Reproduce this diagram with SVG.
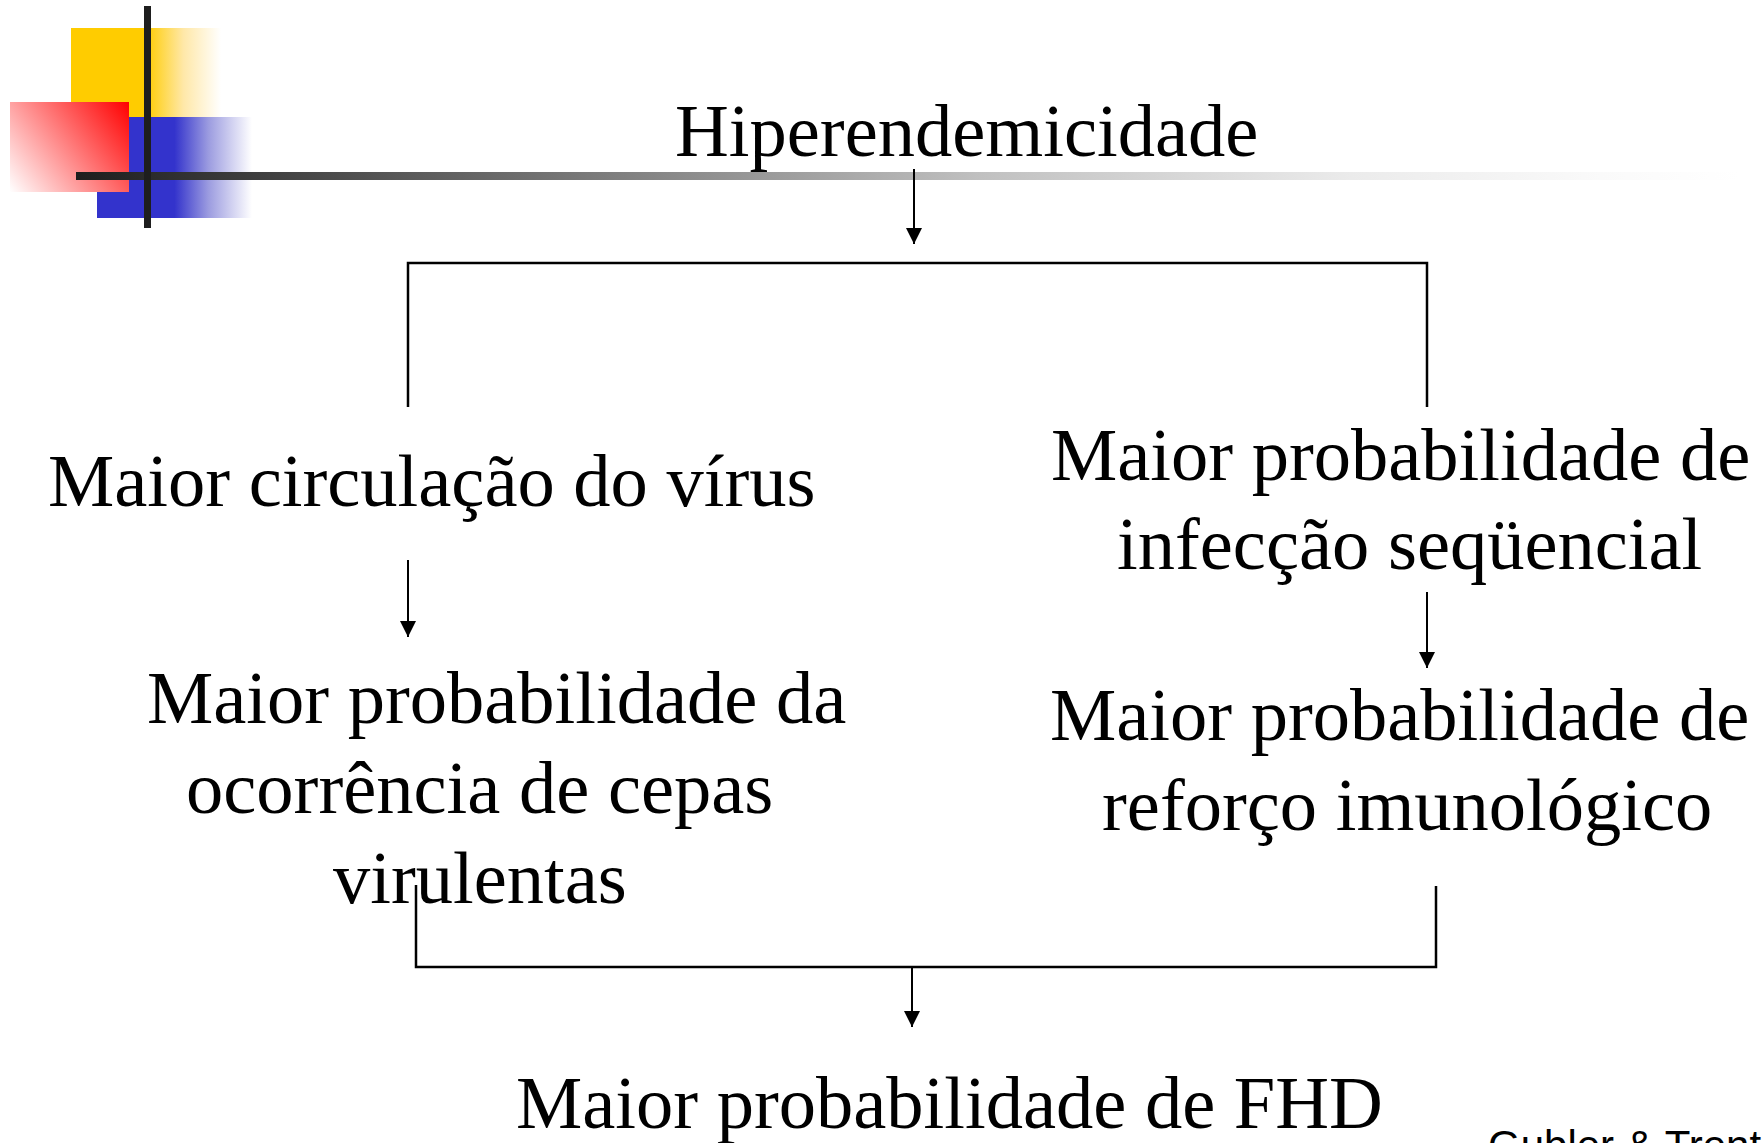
<svg xmlns="http://www.w3.org/2000/svg" width="1762" height="1143" viewBox="0 0 1762 1143">
  <style>
    .t { font-family: "Liberation Serif", "Times New Roman", serif; font-size: 74.5px; fill: #000; }
    .ref { font-family: "Liberation Sans", Arial, sans-serif; font-size: 42px; fill: #000; }
    .c { fill: none; stroke: #000; stroke-width: 2.5; }
    .a { fill: none; stroke: #000; stroke-width: 2; marker-end: url(#arr); }
  </style>
  <defs>
    <marker id="arr" markerUnits="userSpaceOnUse" markerWidth="16" markerHeight="16" refX="16" refY="8" orient="auto" viewBox="0 0 16 16">
      <path d="M0,0 L16,8 L0,16 Z" fill="#000"/>
    </marker>
    <linearGradient id="gY" gradientUnits="userSpaceOnUse" x1="71" y1="0" x2="221" y2="0">
      <stop offset="0" stop-color="#FFCC00"/>
      <stop offset="0.5" stop-color="#FFCC00"/>
      <stop offset="0.75" stop-color="#FFE8A8"/>
      <stop offset="1" stop-color="#FFFFFF"/>
    </linearGradient>
    <linearGradient id="gB" gradientUnits="userSpaceOnUse" x1="97" y1="0" x2="252" y2="0">
      <stop offset="0" stop-color="#3333CC"/>
      <stop offset="0.5" stop-color="#3333CC"/>
      <stop offset="0.72" stop-color="#9C9CE0"/>
      <stop offset="1" stop-color="#FFFFFF"/>
    </linearGradient>
    <linearGradient id="gR" gradientUnits="userSpaceOnUse" x1="129" y1="102" x2="10" y2="192">
      <stop offset="0" stop-color="#FF0000"/>
      <stop offset="1" stop-color="#FFFFFF"/>
    </linearGradient>
    <linearGradient id="gL" gradientUnits="userSpaceOnUse" x1="76" y1="0" x2="1740" y2="0">
      <stop offset="0" stop-color="#1E1E1E"/>
      <stop offset="0.543" stop-color="#C0C0C0"/>
      <stop offset="0.766" stop-color="#EBEBEB"/>
      <stop offset="0.916" stop-color="#FAFAFA"/>
      <stop offset="1" stop-color="#FFFFFF"/>
    </linearGradient>
  </defs>

  <rect width="1762" height="1143" fill="#FFFFFF"/>

  <g id="decoration">
    <rect x="71" y="28" width="150" height="90" fill="url(#gY)"/>
    <rect x="97" y="117" width="155" height="101" fill="url(#gB)"/>
    <rect x="10" y="102" width="119" height="90" fill="url(#gR)"/>
    <rect x="76" y="172" width="1664" height="8" fill="url(#gL)"/>
    <rect x="144" y="6" width="7" height="222" fill="#1E1E1E"/>
  </g>

  <g id="connectors">
    <line class="a" x1="914" y1="169" x2="914" y2="244"/>
    <polyline class="c" points="408,407 408,263 1427,263 1427,407"/>
    <line class="a" x1="408" y1="560" x2="408" y2="637"/>
    <line class="a" x1="1427" y1="592" x2="1427" y2="668"/>
    <polyline class="c" points="416,885 416,967 1436,967 1436,886"/>
    <line class="a" x1="912" y1="967" x2="912" y2="1027"/>
  </g>

  <g id="node-hiperendemicidade">
    <text class="t" x="675" y="156">Hiperendemicidade</text>
  </g>
  <g id="node-circulacao">
    <text class="t" x="48" y="506">Maior circulação do vírus</text>
  </g>
  <g id="node-infeccao">
    <text class="t" x="1051" y="480">Maior probabilidade de</text>
    <text class="t" x="1117" y="569">infecção seqüencial</text>
  </g>
  <g id="node-cepas">
    <text class="t" x="147" y="723">Maior probabilidade da</text>
    <text class="t" x="186" y="813">ocorrência de cepas</text>
    <text class="t" x="333" y="903">virulentas</text>
  </g>
  <g id="node-reforco">
    <text class="t" x="1050" y="740">Maior probabilidade de</text>
    <text class="t" x="1102" y="830">reforço imunológico</text>
  </g>
  <g id="node-fhd">
    <text class="t" x="516" y="1128">Maior probabilidade de FHD</text>
  </g>
  <g id="node-ref">
    <text class="ref" x="1488" y="1160">Gubler &amp; Trent</text>
  </g>
</svg>
